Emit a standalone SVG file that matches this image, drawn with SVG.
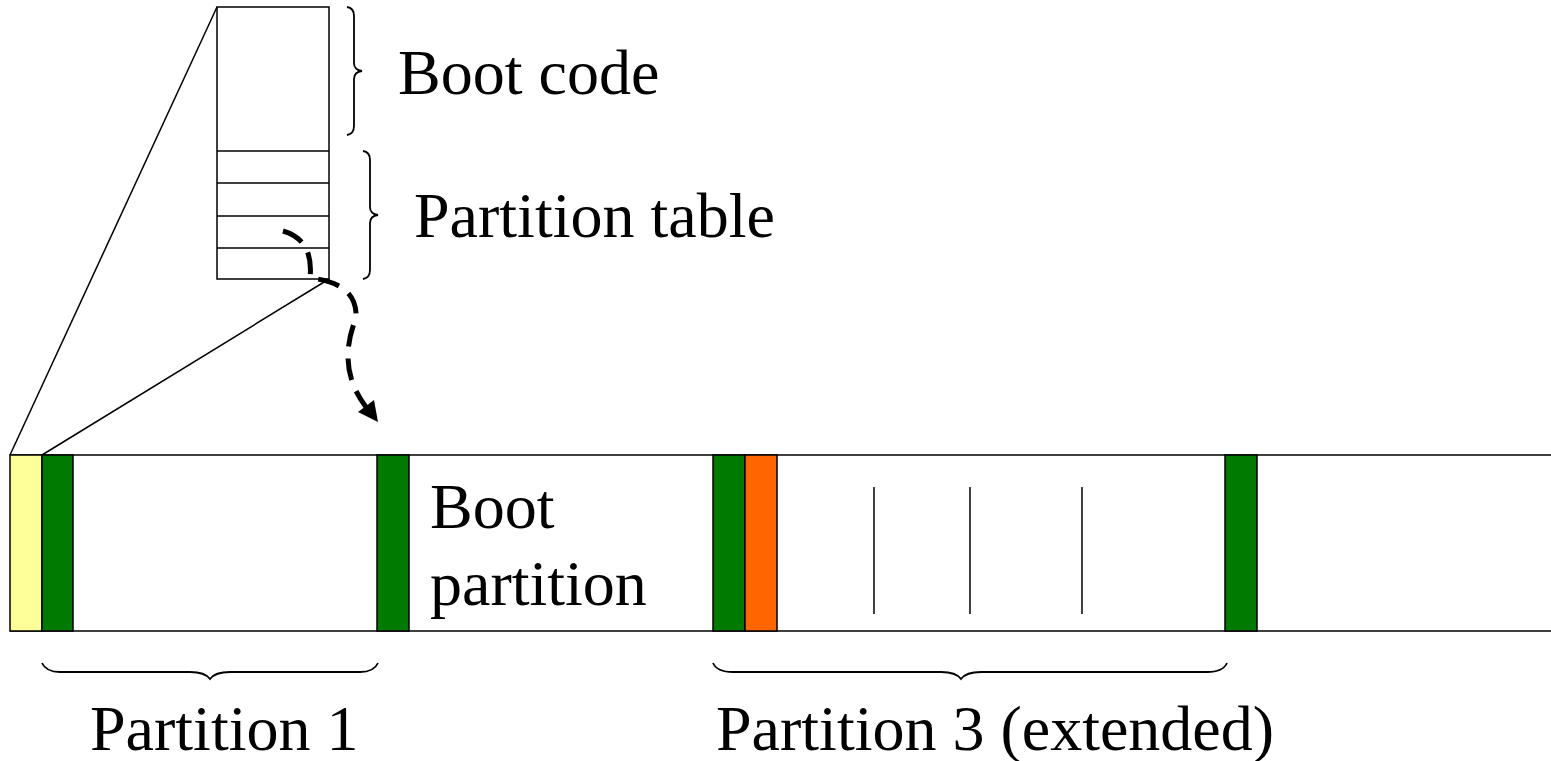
<svg xmlns="http://www.w3.org/2000/svg" width="1551" height="761" viewBox="0 0 1551 761">
<style>
.ln{stroke:#000;stroke-width:1.5;fill:none}
.blk{stroke:#000;stroke-width:1.5}
.br{stroke:#000;stroke-width:1.8;fill:none}
.t{font-family:"Liberation Serif","Times New Roman",serif;font-size:64px;fill:#000}
</style>
<rect width="1551" height="761" fill="#fff"/>
<g id="mbr">
<rect x="217" y="7" width="112" height="272" class="ln" fill="#fff"/>
<line x1="217" y1="151" x2="329" y2="151" class="ln"/>
<line x1="217" y1="183" x2="329" y2="183" class="ln"/>
<line x1="217" y1="216" x2="329" y2="216" class="ln"/>
<line x1="217" y1="248" x2="329" y2="248" class="ln"/>
</g>
<g id="zoom-lines">
<line x1="217" y1="7" x2="10" y2="455" class="ln"/>
<line x1="329" y1="279" x2="42" y2="455" class="ln"/>
</g>
<g id="brace-boot">
<path class="br" d="M347,7 Q354,8 354,16 L354,63 Q354,70 362,71 Q354,72 354,79 L354,126 Q354,134 347,135"/>
<text class="t" x="398" y="94">Boot code</text>
</g>
<g id="brace-table">
<path class="br" d="M363,151 Q370,152 370,160 L370,207 Q370,214 378,215 Q370,216 370,223 L370,270 Q370,278 363,279"/>
<text class="t" x="414" y="237">Partition table</text>
</g>
<g id="disk">
<line x1="10" y1="455" x2="1551" y2="455" class="ln"/>
<line x1="10" y1="631" x2="1551" y2="631" class="ln"/>
<rect x="10" y="455" width="32" height="176" fill="#ffff99" class="blk"/>
<rect x="42" y="455" width="31" height="176" fill="#007a00" class="blk"/>
<rect x="377" y="455" width="32" height="176" fill="#007a00" class="blk"/>
<rect x="713" y="455" width="32" height="176" fill="#007a00" class="blk"/>
<rect x="745" y="455" width="32" height="176" fill="#ff6600" class="blk"/>
<rect x="1225" y="455" width="32" height="176" fill="#007a00" class="blk"/>
<line x1="874" y1="487" x2="874" y2="614" class="ln"/>
<line x1="970" y1="487" x2="970" y2="614" class="ln"/>
<line x1="1082" y1="487" x2="1082" y2="614" class="ln"/>
<text class="t" x="430" y="528">Boot</text>
<text class="t" x="430" y="605">partition</text>
</g>
<g id="brace-p1">
<path class="br" d="M42,663 Q46,672 60,672 L190,672 Q205,672 210,679 Q215,672 230,672 L360,672 Q374,672 378,663"/>
<text class="t" x="90" y="750">Partition 1</text>
</g>
<g id="brace-p3">
<path class="br" d="M713,663 Q717,672 733,672 L941,672 Q956,672 961,679 Q966,672 981,672 L1207,672 Q1223,672 1227,663"/>
<text class="t" x="716" y="750">Partition 3 (extended)</text>
</g>
<g id="connectors">
<path d="M283,231 Q314,240 310,278 Q358,283 356,318 Q336,368 366,407" fill="none" stroke="#000" stroke-width="5" stroke-dasharray="22,12"/>
<polygon points="378,422 358,412 374,400" fill="#000"/>
</g>
</svg>
